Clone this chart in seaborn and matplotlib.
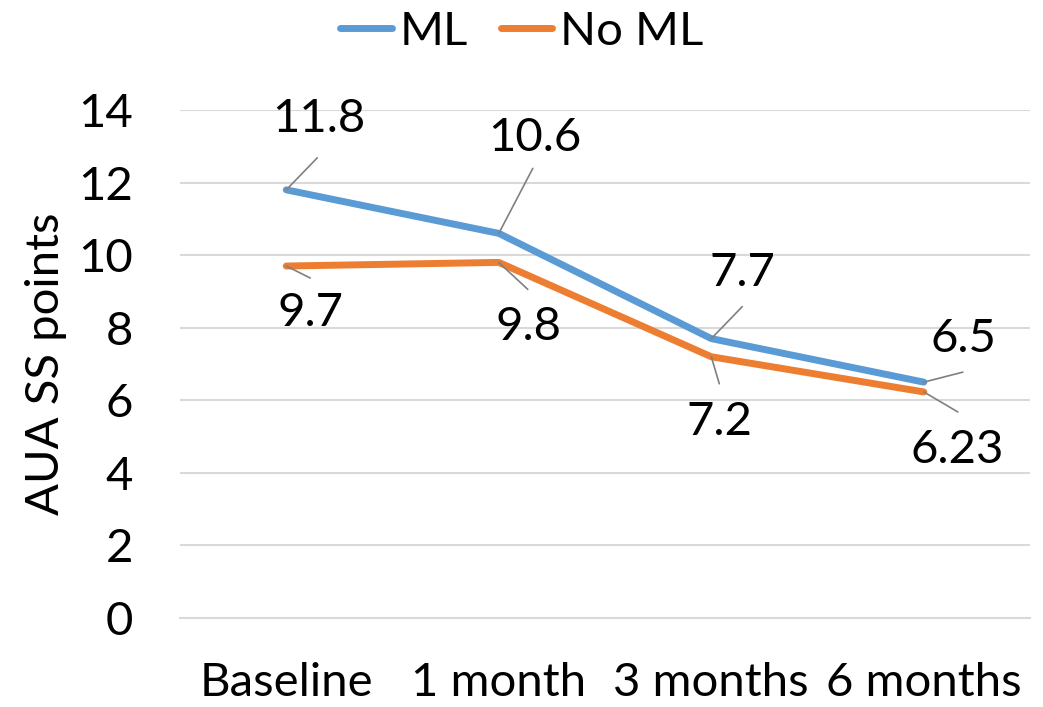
import matplotlib
matplotlib.use('Agg')
import matplotlib.pyplot as plt
import pandas as pd
import seaborn as sns

# Data
timepoints = ['Baseline', '1 month', '3 months', '6 months']
ml_scores = [11.8, 10.6, 7.7, 6.5]
no_ml_scores = [9.7, 9.8, 7.2, 6.23]
ml_labels = ['11.8', '10.6', '7.7', '6.5']
no_ml_labels = ['9.7', '9.8', '7.2', '6.23']

# label offsets in pixels: (leader end dx, dy, text dx, dy), y up
ml_offsets = [(31, 32, 33, 71), (34, 65, 36, 95), (31, 32, 31, 66), (39, 10, 40, 43)]
no_ml_offsets = [(24, -12, 24, -47), (29, -27, 30, -65), (8, -27, 8, -65), (34, -20, 33, -58)]

sns.set_style('white')
plt.rcParams['font.family'] = ['Lato', 'DejaVu Sans']
plt.rcParams['text.color'] = 'black'
plt.rcParams['axes.labelcolor'] = 'black'
plt.rcParams['xtick.color'] = 'black'
plt.rcParams['ytick.color'] = 'black'

df = pd.DataFrame({
    'Time': timepoints * 2,
    'Score': ml_scores + no_ml_scores,
    'Group': ['ML'] * 4 + ['No ML'] * 4,
})
df['x'] = list(range(4)) * 2

colors = {'ML': '#5B9BD5', 'No ML': '#ED7D31'}
FS = 34

fig = plt.figure(figsize=(10.43, 7.07), dpi=100)
ax = fig.add_axes([0.1726, 0.1259, 0.815, 0.7185])

sns.lineplot(data=df, x='x', y='Score', hue='Group', palette=colors,
             linewidth=5, ax=ax, legend=False, zorder=3)

ax.set_xlim(-0.5, 3.5)
ax.set_ylim(0, 14)
ax.set_yticks(range(0, 15, 2))
ax.set_xticks(range(4))
ax.set_xticklabels(timepoints)
ax.yaxis.grid(True, color='#D9D9D9', linewidth=1.5)
ax.tick_params(axis='both', labelsize=FS, length=0, labelcolor='black')
ax.tick_params(axis='x', pad=32)
ax.tick_params(axis='y', pad=34)
ax.set_xlabel('')
ax.set_ylabel('AUA SS points', fontsize=FS, labelpad=8, color='black')
for s in ['top', 'right', 'left']:
    ax.spines[s].set_visible(False)
ax.spines['bottom'].set_color('#D9D9D9')
ax.spines['bottom'].set_linewidth(1.5)

# data labels with leader lines
for scores, labels, offs in [(ml_scores, ml_labels, ml_offsets),
                             (no_ml_scores, no_ml_labels, no_ml_offsets)]:
    for i, (v, lab, o) in enumerate(zip(scores, labels, offs)):
        ax.annotate('', xy=(i, v), xytext=(o[0], o[1]), textcoords='offset pixels',
                    arrowprops=dict(arrowstyle='-', color='#808080', lw=1.2,
                                    shrinkA=0, shrinkB=0), zorder=4)
        ax.annotate(lab, xy=(i, v), xytext=(o[2], o[3]), textcoords='offset pixels',
                    ha='center', va='center', fontsize=FS, color='black', zorder=5)

handles = [plt.Line2D([], [], color=colors[g], linewidth=5) for g in ['ML', 'No ML']]
fig.legend(handles, ['ML', 'No ML'], loc='center', bbox_to_anchor=(0.5, 1 - 32 / 707),
           ncol=2, frameon=False, fontsize=FS, handlelength=1.1,
           handletextpad=0.15, columnspacing=0.7, borderpad=0, labelcolor='black')

fig.savefig('out.png', dpi=100)
